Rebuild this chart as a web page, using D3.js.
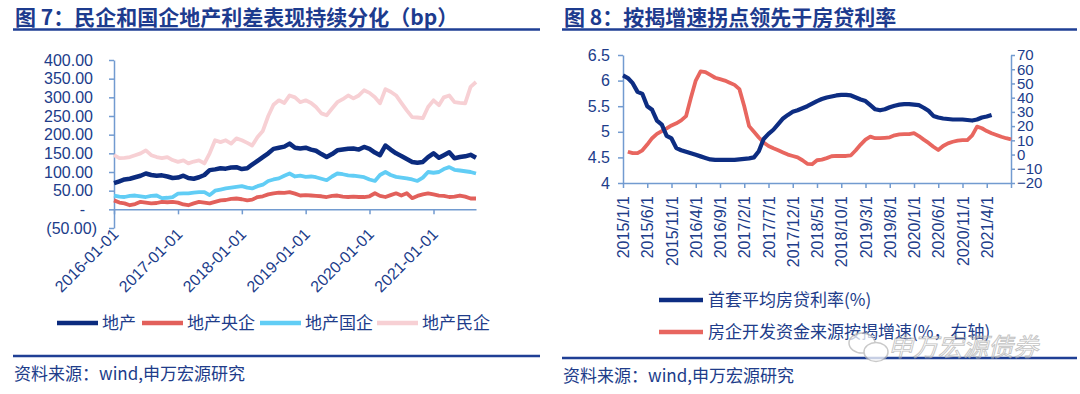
<!DOCTYPE html>
<html>
<head>
<meta charset="utf-8">
<script src="https://cdn.jsdelivr.net/npm/d3@7"></script>
<style>
  body { margin: 0; background: #fff; }
  svg { display: block; }
</style>
</head>
<body>
<div id="chart"></div>
<script>
// ---- figure 7: spreads (bp), monthly from 2016-01 ----
const spreadNames = ['地产', '地产央企', '地产国企', '地产民企'];
const spreadAll = [70, 75, 80, 82, 86, 90, 96, 92, 90, 91, 88, 84, 85, 90, 84, 82, 86, 92, 105, 107,
  110, 109, 112, 113, 108, 110, 120, 130, 140, 150, 162, 165, 168, 176, 165, 163, 165, 160, 157, 148,
  140, 148, 158, 160, 162, 163, 160, 167, 162, 152, 145, 171, 160, 150, 143, 135, 127, 125, 127, 140,
  150, 138, 145, 153, 137, 140, 142, 146, 138];
const spreadCentral = [24, 18, 16, 11, 14, 20, 18, 16, 17, 20, 19, 20, 18, 13, 11, 16, 20, 18, 16, 20,
  24, 25, 28, 29, 27, 24, 26, 33, 35, 40, 43, 45, 44, 46, 42, 37, 38, 37, 36, 35,
  33, 36, 37, 34, 33, 34, 33, 33, 35, 43, 36, 33, 38, 43, 37, 43, 30, 36, 40, 43,
  40, 37, 36, 33, 34, 37, 34, 29, 29];
const spreadState = [37, 34, 33, 36, 37, 35, 33, 36, 37, 30, 31, 33, 42, 43, 43, 45, 46, 46, 38, 50,
  53, 56, 58, 60, 62, 58, 56, 62, 66, 76, 80, 83, 90, 96, 88, 90, 87, 88, 86, 82,
  78, 88, 96, 94, 91, 90, 88, 86, 80, 76, 92, 100, 92, 87, 85, 83, 80, 76, 85, 100,
  98, 100, 108, 113, 106, 104, 102, 100, 96];
const spreadPrivate = [145, 137, 138, 140, 145, 150, 158, 145, 140, 137, 140, 132, 127, 131, 123, 128, 131, 123, 150, 185,
  180, 185, 176, 190, 185, 178, 171, 194, 210, 250, 280, 292, 285, 305, 300, 287, 292, 285, 274, 257,
  252, 270, 287, 295, 305, 297, 305, 319, 312, 300, 284, 322, 315, 305, 285, 265, 247, 246, 244, 274,
  292, 279, 300, 305, 287, 285, 284, 328, 341];
const spreadTicks = [-50, 0, 50, 100, 150, 200, 250, 300, 350, 400];

// ---- figure 8: monthly from 2015-01 ----
const rateName = '首套平均房贷利率(%)';
const loanName = '房企开发资金来源按揭增速(%，右轴)';
const mortgageRate = [6.10, 6.05, 5.95, 5.78, 5.74, 5.50, 5.43, 5.22, 5.14, 4.92, 4.87, 4.68, 4.64, 4.61, 4.58, 4.55, 4.52, 4.49, 4.46, 4.45,
  4.45, 4.45, 4.45, 4.45, 4.46, 4.47, 4.48, 4.50, 4.62, 4.86, 4.96, 5.04, 5.15, 5.26, 5.33, 5.39, 5.42, 5.46, 5.50, 5.55,
  5.60, 5.64, 5.67, 5.69, 5.71, 5.72, 5.72, 5.71, 5.67, 5.63, 5.60, 5.52, 5.44, 5.42, 5.44, 5.48, 5.51, 5.53, 5.54, 5.54,
  5.53, 5.52, 5.47, 5.41, 5.31, 5.28, 5.26, 5.25, 5.24, 5.24, 5.24, 5.23, 5.22, 5.24, 5.28, 5.30, 5.33];
// starts one month later (2015-02)
const mortgageLoanGrowth = [2.0, 1.0, 1.0, 3.0, 7, 11.5, 14.5, 16.5, 18.4, 20.5, 22, 24, 27, 40, 52, 58.5, 58, 56, 54,
  53, 52, 50.5, 49, 46, 34, 20, 16, 12, 8.5, 6, 4.4, 3, 1.5, 0, -1, -2, -4, -6.5, -6.8,
  -4, -3.6, -2.5, -1.2, -1, -1, -1, -0.5, 3, 7, 10.5, 12.6, 11.5, 11.5, 11.8, 12.1, 13.5, 14.2, 14.3,
  14.4, 15, 13, 10.5, 8.2, 5.5, 3.2, 6.0, 7.9, 9, 9.8, 10.2, 10.2, 13.5, 19.6, 18.5, 16.5, 15, 13.8,
  12.5, 11.5, 10.7];
const rateTicks = [4, 4.5, 5, 5.5, 6, 6.5];
const growthTicks = [-20, -10, 0, 10, 20, 30, 40, 50, 60, 70];

const W = 1080, H = 394;
const titleBlue = '#1d3b8e';
const textBlue = '#203c8a';
const axisBlue = '#729bd0';
const cjk = '"Noto Sans CJK SC", "Noto Sans", sans-serif';
const latin = '"Liberation Sans", Arial, sans-serif';

const svg = d3.select('#chart').append('svg')
  .attr('width', W)
  .attr('height', H)
  .attr('viewBox', `0 0 ${W} ${H}`);
svg.append('rect').attr('width', W).attr('height', H).attr('fill', '#fff');

function header(x0, x1, title) {
  svg.append('text')
    .attr('x', x0 + 2)
    .attr('y', 25)
    .attr('font-family', cjk)
    .attr('font-weight', 700)
    .attr('font-size', 21)
    .attr('fill', titleBlue)
    .text(title);
  svg.append('line')
    .attr('x1', x0).attr('x2', x1)
    .attr('y1', 29.5).attr('y2', 29.5)
    .attr('stroke', '#1f3f95')
    .attr('stroke-width', 2.5);
}

function footer(x0, x1, yRule, yText) {
  svg.append('line')
    .attr('x1', x0).attr('x2', x1)
    .attr('y1', yRule).attr('y2', yRule)
    .attr('stroke', '#1f3f95')
    .attr('stroke-width', 2.5);
  svg.append('text')
    .attr('x', x0 + 1)
    .attr('y', yText)
    .attr('font-family', cjk)
    .attr('font-size', 17)
    .attr('fill', textBlue)
    .text('资料来源：wind,申万宏源研究');
}

function styleAxis(g, size = 16) {
  g.selectAll('.domain').attr('stroke', axisBlue).attr('stroke-width', 1.5);
  g.selectAll('.tick line').attr('stroke', axisBlue).attr('stroke-width', 1.5);
  g.selectAll('.tick text')
    .attr('fill', textBlue)
    .attr('font-family', latin)
    .attr('font-size', size);
}

// ================= left chart =================
header(13, 540, '图 7：民企和国企地产利差表现持续分化（bp）');

const start7 = new Date(Date.UTC(2016, 0, 1));
const dates7 = spreadAll.map((_, i) => d3.utcMonth.offset(start7, i));
const x7 = d3.scaleUtc()
  .domain([start7, dates7[dates7.length - 1]])
  .range([114, 476]);
const y7 = d3.scaleLinear().domain([-50, 400]).range([228, 60]);

const fmt7 = (d) => {
  if (d === 0) return '-';
  if (d < 0) return `(${Math.abs(d).toFixed(2)})`;
  return d.toFixed(2);
};

const gy7 = svg.append('g')
  .attr('transform', `translate(${x7.range()[0]},0)`)
  .call(d3.axisLeft(y7).tickValues(spreadTicks).tickFormat(fmt7).tickSize(5).tickSizeOuter(0).tickPadding(16));
styleAxis(gy7);
gy7.selectAll('.tick text')
  .attr('dx', (d) => (d === 0 ? -8 : d < 0 ? 4 : 0));

const gx7 = svg.append('g')
  .attr('transform', `translate(0,${y7(0)})`)
  .call(d3.axisBottom(x7).ticks(d3.utcYear.every(1)).tickFormat(d3.utcFormat('%Y-%m-%d')).tickSize(5).tickSizeOuter(0));
styleAxis(gx7);
gx7.selectAll('.tick text')
  .attr('x', 0)
  .attr('y', 0)
  .attr('dy', '0.35em')
  .attr('text-anchor', 'end')
  .attr('transform', 'translate(1,22) rotate(-45)');

const spreadSeries = [spreadAll, spreadCentral, spreadState, spreadPrivate];
const spreadColors = ['#0b2b7e', '#e2605b', '#61cdf5', '#f7d0d4'];
const spreadWidths = [4.5, 3.8, 3.8, 3.8];
const line7 = d3.line()
  .x((d, i) => x7(dates7[i]))
  .y((d) => y7(d))
  .curve(d3.curveLinear);

// draw back to front: private, state, central, overall
[3, 2, 1, 0].forEach((k) => {
  svg.append('path')
    .datum(spreadSeries[k])
    .attr('fill', 'none')
    .attr('stroke', spreadColors[k])
    .attr('stroke-width', spreadWidths[k])
    .attr('stroke-linejoin', 'round')
    .attr('d', line7);
});

// legend
const legend7X = [57, 142, 260, 377];
spreadNames.forEach((name, k) => {
  const g = svg.append('g').attr('transform', `translate(${legend7X[k]},323)`);
  g.append('line')
    .attr('x1', 0).attr('x2', 41)
    .attr('stroke', spreadColors[k])
    .attr('stroke-width', 4.5);
  g.append('text')
    .attr('x', 45)
    .attr('dy', '0.36em')
    .attr('font-family', cjk)
    .attr('font-size', 17)
    .attr('fill', textBlue)
    .text(name);
});

footer(13, 540, 356, 380);

// ================= right chart =================
header(562, 1077, '图 8：按揭增速拐点领先于房贷利率');

const x8 = d3.scaleLinear().domain([0, 80]).range([623, 1011]);
const y8L = d3.scaleLinear().domain([4, 6.5]).range([183, 55]);
const y8R = d3.scaleLinear().domain([-20, 70]).range([183, 55]);

const gy8L = svg.append('g')
  .attr('transform', `translate(${x8(0)},0)`)
  .call(d3.axisLeft(y8L).tickValues(rateTicks).tickFormat((d) => (d % 1 === 0 ? d : d.toFixed(1))).tickSize(5).tickSizeOuter(0).tickPadding(8));
styleAxis(gy8L);

const gy8R = svg.append('g')
  .attr('transform', `translate(${x8(80)},0)`)
  .call(d3.axisRight(y8R).tickValues(growthTicks).tickSize(4).tickSizeOuter(0).tickPadding(2));
styleAxis(gy8R, 15);

const start8 = new Date(Date.UTC(2015, 0, 1));
const monthTicks = d3.range(0, 81, 5);
const gx8 = svg.append('g')
  .attr('transform', `translate(0,${y8L(4)})`)
  .call(d3.axisBottom(x8).tickValues(monthTicks)
    .tickFormat((m) => (m < 80 ? d3.utcFormat('%Y/%-m/%-d')(d3.utcMonth.offset(start8, m)) : ''))
    .tickSize(5).tickSizeOuter(0));
styleAxis(gx8);
gx8.selectAll('.tick text')
  .attr('x', -13)
  .attr('y', 0)
  .attr('dy', '0.35em')
  .attr('text-anchor', 'end')
  .attr('transform', 'rotate(-90)');

const rateLine = d3.line()
  .x((d, i) => x8(i))
  .y((d) => y8L(d));
const growthLine = d3.line()
  .x((d, i) => x8(i + 1))
  .y((d) => y8R(d));

svg.append('path')
  .datum(mortgageLoanGrowth)
  .attr('fill', 'none')
  .attr('stroke', '#e8665f')
  .attr('stroke-width', 3.8)
  .attr('stroke-linejoin', 'round')
  .attr('d', growthLine);

svg.append('path')
  .datum(mortgageRate)
  .attr('fill', 'none')
  .attr('stroke', '#0d2d82')
  .attr('stroke-width', 4.2)
  .attr('stroke-linejoin', 'round')
  .attr('d', rateLine);

// legend
[[rateName, '#0d2d82', 300], [loanName, '#e8665f', 332]].forEach(([name, color, y]) => {
  const g = svg.append('g').attr('transform', `translate(659,${y})`);
  g.append('line')
    .attr('x1', 0).attr('x2', 44)
    .attr('stroke', color)
    .attr('stroke-width', 4.5);
  g.append('text')
    .attr('x', 49)
    .attr('dy', '0.36em')
    .attr('font-family', cjk)
    .attr('font-size', 17)
    .attr('fill', textBlue)
    .text(name);
});

footer(562, 1077, 358, 382);

// watermark
const wm = svg.append('g').attr('opacity', 0.75);
wm.append('ellipse')
  .attr('cx', 862).attr('cy', 343).attr('rx', 13).attr('ry', 10)
  .attr('fill', '#fff').attr('stroke', '#b8b8b8').attr('stroke-width', 1.5);
wm.append('ellipse')
  .attr('cx', 876).attr('cy', 352).attr('rx', 12).attr('ry', 9.5)
  .attr('fill', '#fff').attr('stroke', '#b8b8b8').attr('stroke-width', 1.5);
wm.append('text')
  .attr('x', 888)
  .attr('y', 356)
  .attr('font-family', cjk)
  .attr('font-size', 25)
  .attr('font-style', 'italic')
  .attr('fill', 'none')
  .attr('stroke', '#b0b0b0')
  .attr('stroke-width', 0.9)
  .text('申万宏源债券');
</script>
</body>
</html>
